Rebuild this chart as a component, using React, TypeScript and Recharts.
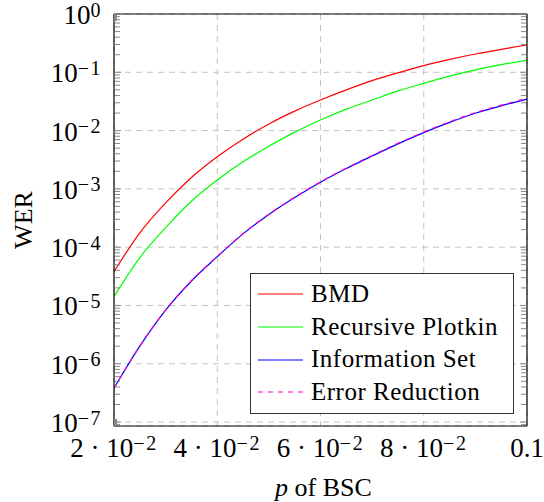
import React from 'react';
import { LineChart, Line, XAxis, YAxis, CartesianGrid, Legend, Label } from 'recharts';

// ---- data ----
const pValues = [
  0.02, 0.025, 0.03, 0.035, 0.04, 0.045, 0.05, 0.055, 0.06, 0.065, 0.07, 0.075, 0.08, 0.085, 0.09, 0.095, 0.1,
];
const bmdWer = [
  3.8e-5, 1.76e-4, 5.75e-4, 1.57e-3, 3.56e-3, 7.13e-3, 1.3e-2, 2.16e-2, 3.35e-2, 4.99e-2, 7.18e-2, 9.77e-2, 0.13,
  0.166, 0.206, 0.248, 0.294,
];
const plotkinWer = [
  1.41e-5, 6.6e-5, 2.16e-4, 6.12e-4, 1.42e-3, 2.92e-3, 5.37e-3, 9.4e-3, 1.52e-2, 2.33e-2, 3.35e-2, 4.79e-2, 6.47e-2,
  8.57e-2, 0.11, 0.135, 0.16,
];
const infoSetWer = [
  3.8e-7, 2.0e-6, 8.3e-6, 2.63e-5, 6.87e-5, 1.69e-4, 3.63e-4, 7.08e-4, 1.3e-3, 2.23e-3, 3.66e-3, 5.92e-3, 9.23e-3,
  1.38e-2, 1.98e-2, 2.66e-2, 3.48e-2,
];
const errRedWer = [
  3.8e-7, 2.0e-6, 8.35e-6, 2.65e-5, 6.95e-5, 1.71e-4, 3.68e-4, 7.2e-4, 1.32e-3, 2.27e-3, 3.74e-3, 6.05e-3, 9.45e-3,
  1.415e-2, 2.03e-2, 2.73e-2, 3.57e-2,
];

const seriesKeys = ['bmd', 'plotkin', 'infoSet', 'errRed'];
const seriesNames = ['BMD', 'Recursive Plotkin', 'Information Set', 'Error Reduction'];
const seriesColors = ['#ff0000', '#00ff00', '#0000ff', '#ff00c0'];
const seriesDash = ['', '', '', '5 5'];

const xTicks = [0.02, 0.04, 0.06, 0.08, 0.1];
const xTickLabels = ['2 · 10^−2', '4 · 10^−2', '6 · 10^−2', '8 · 10^−2', '0.1'];
const yTicks = [1e-7, 1e-6, 1e-5, 1e-4, 1e-3, 1e-2, 1e-1, 1];
const yTickLabels = ['10^−7', '10^−6', '10^−5', '10^−4', '10^−3', '10^−2', '10^−1', '10^0'];
const xDomain = [0.02, 0.1];
const yDomain = [8.55e-8, 1];

const yMinorTicks: number[] = [];
for (let k = -8; k <= -1; k++) {
  for (let m = 2; m <= 9; m++) {
    const v = m * Math.pow(10, k);
    if (v >= yDomain[0] && v <= yDomain[1]) yMinorTicks.push(v);
  }
}

const data = pValues.map((p, i) => ({
  p,
  bmd: bmdWer[i],
  plotkin: plotkinWer[i],
  infoSet: infoSetWer[i],
  errRed: errRedWer[i],
}));

const FONT = "'Liberation Serif', 'Times New Roman', serif";
const MAIN_SIZE = 27;
const SUP_SIZE = 20;

function TickText({ x, y, label, anchor }: any) {
  const parts = String(label).split('^');
  return (
    <text x={x} y={y} textAnchor={anchor} fontFamily={FONT} fontSize={MAIN_SIZE} fill="#000">
      {parts[0]}
      {parts.length > 1 && (
        <tspan dy={-7.5} fontSize={SUP_SIZE} letterSpacing={1.5}>
          {parts[1]}
        </tspan>
      )}
    </text>
  );
}

const XTick = (props: any) => {
  const { x, y, payload } = props;
  const label = xTickLabels[xTicks.indexOf(payload.value)] ?? '';
  return <TickText x={x} y={y + 31} label={label} anchor="middle" />;
};

const YTick = (props: any) => {
  const { x, y, payload } = props;
  const idx = yTicks.findIndex((t) => Math.abs(Math.log10(t) - Math.log10(payload.value)) < 1e-6);
  const label = idx >= 0 ? yTickLabels[idx] : '';
  return <TickText x={x} y={y + 10} label={label} anchor="end" />;
};

const EmptyTick = () => <g />;

const YLabel = (props: any) => {
  const vb = props.viewBox || { x: 0, y: 14, width: 114, height: 412 };
  const cx = vb.x + 32;
  const cy = vb.y + vb.height / 2;
  return (
    <text x={cx} y={cy} transform={`rotate(-90, ${cx}, ${cy})`} textAnchor="middle" fontFamily={FONT} fontSize={26} fill="#000">
      WER
    </text>
  );
};

const XLabel = (props: any) => {
  const vb = props.viewBox || { x: 114, y: 426, width: 413, height: 76 };
  const cx = vb.x + vb.width / 2 + 3;
  return (
    <text x={cx} y={vb.y + 70} textAnchor="middle" fontFamily={FONT} fontSize={26} fill="#000">
      <tspan fontStyle="italic">p</tspan> of BSC
    </text>
  );
};

const LegendBox = () => (
  <div
    style={{
      boxSizing: 'border-box',
      width: 264,
      height: 141,
      border: '1px solid #333',
      background: '#fff',
      paddingTop: 4,
      fontFamily: FONT,
      fontSize: 25,
      letterSpacing: 0.5,
      color: '#000',
    }}
  >
    {seriesNames.map((name, i) => (
      <div key={name} style={{ height: 32.7, display: 'flex', alignItems: 'center', whiteSpace: 'nowrap' }}>
        <svg width={60} height={10} style={{ flex: 'none' }}>
          <line x1={7} y1={5} x2={52} y2={5} stroke={seriesColors[i]} strokeWidth={1.2} strokeDasharray={seriesDash[i] || undefined} />
        </svg>
        <span style={{ lineHeight: '32.7px' }}>{name}</span>
      </div>
    ))}
  </div>
);

const tickStroke = { stroke: '#888', strokeWidth: 1 };
const frameStroke = { stroke: '#000', strokeWidth: 1.2 };

export default function App() {
  return (
    <div style={{ position: 'absolute', left: 0, top: 0, width: 544, height: 502, background: '#fff' }}>
      <LineChart width={544} height={502} data={data} margin={{ top: 14, right: 17, bottom: 0, left: 0 }}>
        <CartesianGrid stroke="#c4c4c4" strokeDasharray="6 5" strokeWidth={1} />
        <XAxis
          dataKey="p"
          type="number"
          domain={xDomain}
          allowDataOverflow
          ticks={xTicks}
          interval={0}
          height={76}
          tickSize={0}
          tickMargin={0}
          tickLine={false}
          tick={XTick}
          axisLine={frameStroke}
        >
          <Label content={XLabel} />
        </XAxis>
        <YAxis
          type="number"
          scale="log"
          domain={yDomain}
          allowDataOverflow
          ticks={yTicks}
          interval={0}
          width={114}
          tickSize={0}
          tickMargin={12}
          tickLine={false}
          tick={YTick}
          axisLine={frameStroke}
        >
          <Label content={YLabel} />
        </YAxis>

        {/* inward tick marks and frame */}
        <XAxis xAxisId="bt" type="number" domain={xDomain} allowDataOverflow ticks={xTicks} interval={0} orientation="bottom" mirror height={1} tickSize={7} tick={EmptyTick} tickLine={tickStroke} axisLine={false} />
        <XAxis xAxisId="tp" type="number" domain={xDomain} allowDataOverflow ticks={xTicks} interval={0} orientation="top" mirror height={1} tickSize={7} tick={EmptyTick} tickLine={tickStroke} axisLine={frameStroke} />
        <YAxis yAxisId="lmaj" type="number" scale="log" domain={yDomain} allowDataOverflow ticks={yTicks} interval={0} orientation="left" mirror width={1} tickSize={7} tick={EmptyTick} tickLine={tickStroke} axisLine={false} />
        <YAxis yAxisId="lmin" type="number" scale="log" domain={yDomain} allowDataOverflow ticks={yMinorTicks} interval={0} orientation="left" mirror width={1} tickSize={5} tick={EmptyTick} tickLine={tickStroke} axisLine={false} />
        <YAxis yAxisId="rmaj" type="number" scale="log" domain={yDomain} allowDataOverflow ticks={yTicks} interval={0} orientation="right" mirror width={1} tickSize={7} tick={EmptyTick} tickLine={tickStroke} axisLine={frameStroke} />
        <YAxis yAxisId="rmin" type="number" scale="log" domain={yDomain} allowDataOverflow ticks={yMinorTicks} interval={0} orientation="right" mirror width={1} tickSize={5} tick={EmptyTick} tickLine={tickStroke} axisLine={false} />

        {seriesKeys.map((k, i) => (
          <Line
            key={k}
            dataKey={k}
            name={seriesNames[i]}
            type="monotone"
            stroke={seriesColors[i]}
            strokeWidth={1.2}
            strokeDasharray={seriesDash[i] || undefined}
            dot={false}
            activeDot={false}
            isAnimationActive={false}
          />
        ))}

        <Legend
          layout="vertical"
          align="center"
          verticalAlign="middle"
          content={LegendBox}
          wrapperStyle={{ position: 'absolute', left: 250, top: 273, width: 264, height: 141 }}
        />
      </LineChart>
    </div>
  );
}
